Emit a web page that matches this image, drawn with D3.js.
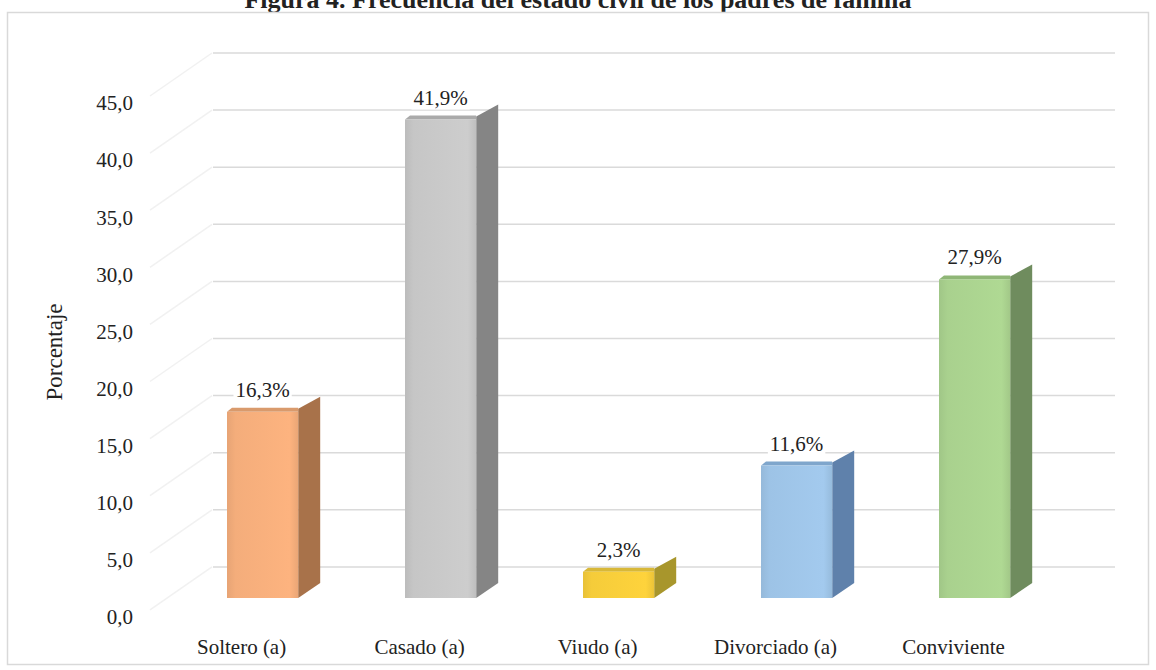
<!DOCTYPE html>
<html>
<head>
<meta charset="utf-8">
<script src="https://cdn.jsdelivr.net/npm/d3@7"></script>
<style>
    body { margin: 0; background: #fff; }
    svg text { font-family: "Liberation Serif", "Times New Roman", serif; fill: #222; }
</style>
</head>
<body>
<div id="vis-container"></div>
<script>
const categories = ["Soltero (a)", "Casado (a)", "Viudo (a)", "Divorciado (a)", "Conviviente"];
const values = [16.3, 41.9, 2.3, 11.6, 27.9];
const frontColors = ["#f4ad7b", "#c6c6c6", "#f5cc3a", "#9dc3e6", "#a9d18e"];
const sideColors = ["#a8724a", "#858585", "#a8962c", "#5f81ab", "#6f8c5e"];
const topColors = ["#d99a6c", "#aaaaaa", "#d8b838", "#7fa6cc", "#8fb676"];
const yTicks = [0, 5, 10, 15, 20, 25, 30, 35, 40, 45];
const gridValues = [5, 10, 15, 20, 25, 30, 35, 40, 45, 50];

const width = 1156, height = 670;
const depthX = 22, depthY = -15;
const barShift = 26, labelShift = 7;
const serif = "Liberation Serif, Times New Roman, serif";

let fmt = v => d3.format(".1f")(v).replace(".", ",");

let svg = d3.select("#vis-container")
    .append("svg")
    .attr("width", width)
    .attr("height", height);

// wall scale, bars and labels are the same scale shifted (3D perspective)
let y = d3.scaleLinear().domain([0, 50]).range([624, 53]);
let x = d3.scaleBand()
    .domain(categories)
    .range([173.6, 1063.6])
    .paddingInner(0.6)
    .paddingOuter(0.3);

let defs = svg.append("defs");
categories.forEach((c, i) => {
    let g = defs.append("linearGradient")
        .attr("id", "grad" + i)
        .attr("x1", "0").attr("x2", "1").attr("y1", "0").attr("y2", "0");
    g.append("stop").attr("offset", "0%").attr("stop-color", d3.color(frontColors[i]).darker(0.15));
    g.append("stop").attr("offset", "12%").attr("stop-color", frontColors[i]);
    g.append("stop").attr("offset", "88%").attr("stop-color", d3.color(frontColors[i]).brighter(0.1));
    g.append("stop").attr("offset", "100%").attr("stop-color", d3.color(frontColors[i]).darker(0.12));
});

// title (cut off at the top like the reference)
svg.append("text")
    .attr("x", 578)
    .attr("y", 8)
    .attr("text-anchor", "middle")
    .attr("font-family", serif)
    .attr("font-size", 26)
    .attr("font-weight", "bold")
    .text("Figura 4. Frecuencia del estado civil de los padres de familia");

// chart frame
svg.append("rect")
    .attr("x", 7.5).attr("y", 12.5)
    .attr("width", 1141).attr("height", 652)
    .attr("fill", "#fff")
    .attr("stroke", "#d9d9d9")
    .attr("stroke-width", 1.5);

// side wall diagonals
svg.append("g").selectAll("line")
    .data(gridValues)
    .enter().append("line")
    .attr("x1", 150).attr("y1", d => y(d) + 43)
    .attr("x2", 212).attr("y2", d => y(d))
    .attr("stroke", "#f1f1f1")
    .attr("stroke-width", 1.5);

// back wall gridlines
svg.append("g").selectAll("line")
    .data(gridValues)
    .enter().append("line")
    .attr("x1", 213).attr("x2", 1115)
    .attr("y1", d => y(d)).attr("y2", d => y(d))
    .attr("stroke", "#dadada")
    .attr("stroke-width", 1.5);

// y axis labels
let yAxis = d3.axisLeft(y.copy().range(y.range().map(r => r - labelShift)))
    .tickValues(yTicks)
    .tickFormat(fmt)
    .tickSize(0)
    .tickPadding(0);
svg.append("g")
    .attr("transform", "translate(133,0)")
    .call(yAxis)
    .attr("font-family", serif)
    .call(g => g.select(".domain").remove())
    .selectAll("text")
    .attr("font-family", serif)
    .attr("font-size", 21)
    .attr("fill", "#222");

svg.append("text")
    .attr("transform", "translate(62,352) rotate(-90)")
    .attr("text-anchor", "middle")
    .attr("font-family", serif)
    .attr("font-size", 23)
    .text("Porcentaje");

// bars
let bars = svg.append("g").selectAll(".bar")
    .data(categories.map((c, i) => ({name: c, value: values[i], i: i})))
    .enter().append("g")
    .attr("class", "bar");

let x0 = d => x(d.name),
    x1 = d => x(d.name) + x.bandwidth(),
    yTop = d => y(d.value) - barShift,
    yBase = d => y(0) - barShift;

bars.append("path")
    .attr("fill", d => sideColors[d.i])
    .attr("d", d => `M${x1(d)},${yTop(d) - 3} L${x1(d) + depthX},${yTop(d) + depthY} L${x1(d) + depthX},${yBase(d) + depthY} L${x1(d)},${yBase(d)} Z`);

bars.append("path")
    .attr("fill", d => topColors[d.i])
    .attr("d", d => `M${x0(d)},${yTop(d)} L${x1(d)},${yTop(d)} L${x1(d)},${yTop(d) - 4} L${x0(d) + 5},${yTop(d) - 4} Z`);

bars.append("rect")
    .attr("x", x0)
    .attr("y", yTop)
    .attr("width", x.bandwidth())
    .attr("height", d => yBase(d) - yTop(d))
    .attr("fill", d => "url(#grad" + d.i + ")");

// value labels with white box
let labels = bars.append("g")
    .attr("transform", d => `translate(${x0(d) + x.bandwidth() / 2},${yTop(d) - 15})`);
labels.append("text")
    .attr("text-anchor", "middle")
    .attr("font-family", serif)
    .attr("font-size", 21)
    .text(d => fmt(d.value) + "%")
    .each(function() {
        let b = this.getBBox();
        d3.select(this.parentNode).insert("rect", "text")
            .attr("x", b.x - 2).attr("y", b.y + 2)
            .attr("width", b.width + 4).attr("height", b.height - 2)
            .attr("fill", "#fff");
    });

// category labels (shifted left by perspective)
svg.append("g").selectAll("text")
    .data(categories)
    .enter().append("text")
    .attr("x", d => x(d) + x.bandwidth() / 2 - 21)
    .attr("y", 654)
    .attr("text-anchor", "middle")
    .attr("font-family", serif)
    .attr("font-size", 21)
    .text(d => d);
</script>
</body>
</html>
